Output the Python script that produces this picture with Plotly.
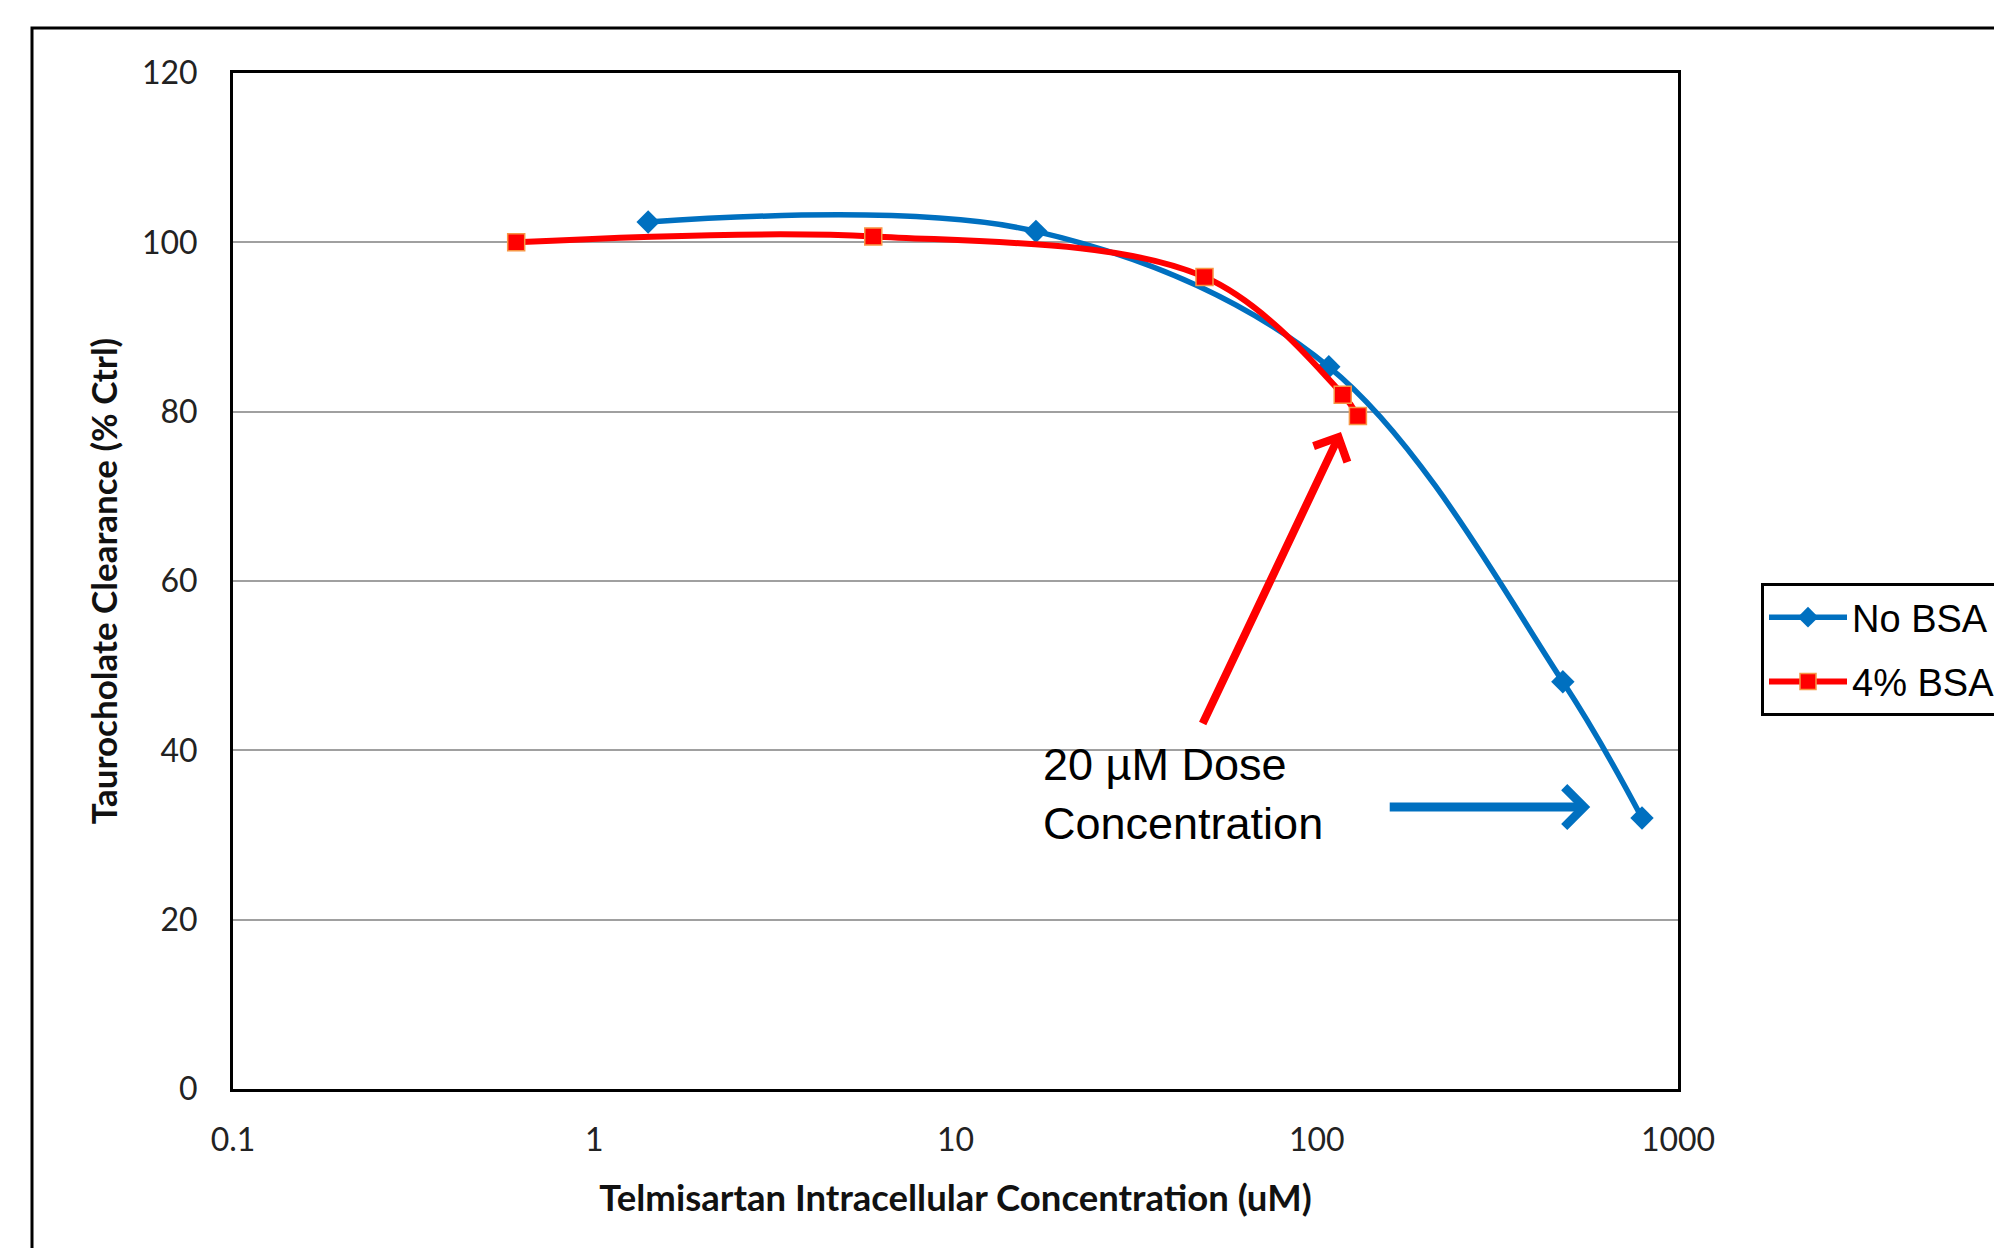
import plotly.graph_objects as go

# ---- data ----
no_bsa_x = [1.41, 16.7, 108, 480, 795]
no_bsa_y = [102.4, 101.3, 85.3, 48.1, 32.0]
bsa_x = [0.608, 5.92, 48.9, 118, 130]
bsa_y = [100.0, 100.7, 95.9, 82.0, 79.5]

x_tick_vals = [0.1, 1, 10, 100, 1000]
x_tick_text = ["0.1", "1", "10", "100", "1000"]
y_tick_vals = [0, 20, 40, 60, 80, 100, 120]

series_names = ["No BSA", "4% BSA"]
x_title = "Telmisartan Intracellular Concentration (uM)"
y_title = "Taurocholate Clearance (% Ctrl)"
note_text = "20 µM Dose<br>Concentration"

W, H = 2002, 1248
OFF = 8  # page body margin offset
L, T = 233 - OFF, 73 - OFF
PR, PB = 1678 - OFF, 1089 - OFF
R, B = W - PR, H - PB
pw, ph = PR - L, PB - T

def px(xp):
    return (xp - OFF - L) / pw

def py(yp):
    return (PB - (yp - OFF)) / ph

BLUE = "#0070C0"
RED = "#FF0000"

fig = go.Figure()
fig.add_trace(go.Scatter(
    x=no_bsa_x, y=no_bsa_y, name=series_names[0], legendgroup="a",
    mode="lines+markers",
    line=dict(color=BLUE, width=5.5, shape="spline", smoothing=1.0),
    marker=dict(symbol="diamond", size=18, color=BLUE, line=dict(color=BLUE, width=0)),
))
fig.add_trace(go.Scatter(
    x=bsa_x, y=bsa_y, name=series_names[1], legendgroup="b",
    mode="lines+markers",
    line=dict(color=RED, width=6, shape="spline", smoothing=1.0),
    marker=dict(symbol="square", size=17, color=RED, line=dict(color="#F79646", width=1.5)),
))

tick_font = dict(family="Lato, Carlito, Calibri, sans-serif", size=32, color="#222222")
title_font = dict(family="Lato, Carlito, Calibri, sans-serif", size=35, color="#111111")
xtitle_font = dict(family="Lato, Carlito, Calibri, sans-serif", size=36.5, color="#111111")

fig.update_xaxes(
    type="log", range=[-1, 3],
    tickvals=x_tick_vals, ticktext=x_tick_text,
    showgrid=False, zeroline=False,
    showline=True, linecolor="black", linewidth=3, mirror=True,
    ticks="", ticklabelstandoff=21,
    tickfont=tick_font,
    title=dict(text="<b>" + x_title + "</b>", font=xtitle_font, standoff=29),
    automargin=False,
)
fig.update_yaxes(
    range=[0, 120], tickvals=y_tick_vals,
    showgrid=True, gridcolor="#A0A0A0", gridwidth=2,
    zeroline=False,
    showline=True, linecolor="black", linewidth=3, mirror=True,
    ticks="", ticklabelstandoff=26,
    tickfont=tick_font,
    title=dict(text="<b>" + y_title + "</b>", font=title_font, standoff=14),
    automargin=False,
)

# outer chart-area frame (extends beyond the canvas on right/bottom)
fig.add_shape(type="rect", xref="paper", yref="paper",
              x0=px(32), x1=px(2040), y0=py(1290), y1=py(28),
              line=dict(color="black", width=3), fillcolor="rgba(0,0,0,0)", layer="below")

# arrows
fig.add_annotation(x=2.067, y=77.6, xref="x", yref="y", text="",
                   showarrow=True, arrowhead=4, arrowsize=0.9, arrowwidth=8,
                   arrowcolor=RED, ax=-139, ay=293, axref="pixel", ayref="pixel", standoff=0)
fig.add_annotation(x=2.757, y=33.3, xref="x", yref="y", text="",
                   showarrow=True, arrowhead=4, arrowsize=0.85, arrowwidth=9,
                   arrowcolor=BLUE, ax=-202, ay=0, axref="pixel", ayref="pixel", standoff=0)
# dose note
fig.add_annotation(x=1.236, y=34.8, xref="x", yref="y", text=note_text,
                   showarrow=False, xanchor="left", yanchor="middle", align="left",
                   font=dict(family="Liberation Sans, Arial, sans-serif", size=45, color="black"))

fig.update_layout(
    width=W, height=H,
    margin=dict(l=L, r=R, t=T, b=B, autoexpand=False),
    paper_bgcolor="white", plot_bgcolor="white",
    showlegend=True,
    legend=dict(
        x=px(1761), y=py(583), xanchor="left", yanchor="top",
        bordercolor="black", borderwidth=3, bgcolor="white",
        font=dict(family="Liberation Sans, Arial, sans-serif", size=38, color="black"),
        tracegroupgap=12, itemwidth=78,
    ),
)

fig.write_html("out.html")
